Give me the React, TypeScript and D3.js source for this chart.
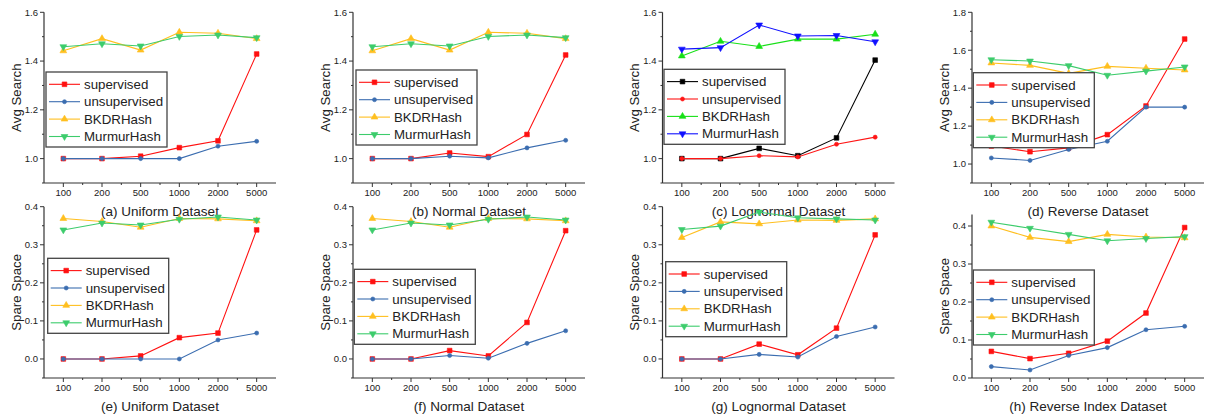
import React from 'react';
import * as d3 from 'd3';

const categories = ['100', '200', '500', '1000', '2000', '5000'];
const seriesNames = ['supervised', 'unsupervised', 'BKDRHash', 'MurmurHash'];

// each panel: one row per series, same order as seriesNames
const uniformSearch = [
  [1.0, 1.0, 1.01, 1.045, 1.073, 1.429],
  [1.0, 1.0, 1.0, 1.0, 1.051, 1.071],
  [1.442, 1.492, 1.445, 1.518, 1.514, 1.492],
  [1.459, 1.471, 1.462, 1.501, 1.507, 1.496],
];
const normalSearch = [
  [1.0, 1.0, 1.023, 1.008, 1.099, 1.425],
  [1.0, 1.0, 1.01, 1.003, 1.044, 1.075],
  [1.442, 1.492, 1.445, 1.518, 1.514, 1.492],
  [1.459, 1.471, 1.462, 1.501, 1.507, 1.496],
];
const lognormalSearch = [
  [1.0, 1.0, 1.042, 1.012, 1.085, 1.404],
  [1.0, 1.0, 1.012, 1.007, 1.059, 1.088],
  [1.421, 1.481, 1.46, 1.49, 1.49, 1.51],
  [1.449, 1.455, 1.548, 1.503, 1.505, 1.479],
];
const reverseSearch = [
  [1.095, 1.065, 1.085, 1.155, 1.306, 1.659],
  [1.032, 1.019, 1.077, 1.12, 1.3, 1.3],
  [1.533, 1.52, 1.478, 1.515, 1.505, 1.496],
  [1.55, 1.543, 1.519, 1.468, 1.49, 1.512],
];
const uniformSpace = [
  [0, 0, 0.008, 0.056, 0.068, 0.339],
  [0, 0, 0, 0, 0.05, 0.068],
  [0.369, 0.361, 0.346, 0.369, 0.368, 0.363],
  [0.339, 0.357, 0.352, 0.367, 0.373, 0.365],
];
const normalSpace = [
  [0, 0, 0.022, 0.008, 0.096, 0.337],
  [0, 0, 0.009, 0.002, 0.041, 0.074],
  [0.369, 0.361, 0.346, 0.369, 0.368, 0.363],
  [0.339, 0.357, 0.352, 0.367, 0.373, 0.365],
];
const lognormalSpace = [
  [0, 0, 0.039, 0.011, 0.081, 0.326],
  [0, 0, 0.012, 0.005, 0.059, 0.084],
  [0.319, 0.36, 0.355, 0.365, 0.364, 0.368],
  [0.34, 0.349, 0.386, 0.371, 0.368, 0.365],
];
const reverseSpace = [
  [0.07, 0.051, 0.065, 0.097, 0.171, 0.396],
  [0.03, 0.021, 0.059, 0.08, 0.127, 0.136],
  [0.4, 0.37, 0.359, 0.378, 0.371, 0.369],
  [0.41, 0.394, 0.378, 0.361, 0.367, 0.372],
];

const searchTicks = [1.0, 1.2, 1.4, 1.6];
const reverseSearchTicks = [1.0, 1.2, 1.4, 1.6, 1.8];
const spaceTicks = [0.0, 0.1, 0.2, 0.3, 0.4];

const mainColors = ['#ff1010', '#3b6db0', '#ffbf1f', '#3dcc6c'];
const lognormalColors = ['#000000', '#ff1515', '#18e018', '#1010ff'];
const shapes = [d3.symbolSquare, d3.symbolCircle, d3.symbolTriangle, d3.symbolTriangle];
const shapeSizes = [22, 13, 20, 20];

const font = '"Liberation Sans", Arial, sans-serif';
const colX = [44, 353, 662.5, 972];
const plotW = 232;

const panels = [
  { caption: '(a) Uniform Dataset', label: 'Avg Search', data: uniformSearch, ticks: searchTicks, domain: [0.9, 1.6], range: [183, 12.3], col: 0, colors: mainColors, legend: [2, 72], capY: 211.5 },
  { caption: '(b) Normal Dataset', label: 'Avg Search', data: normalSearch, ticks: searchTicks, domain: [0.9, 1.6], range: [183, 12.3], col: 1, colors: mainColors, legend: [3, 70], capY: 211.5 },
  { caption: '(c) Lognormal Dataset', label: 'Avg Search', data: lognormalSearch, ticks: searchTicks, domain: [0.9, 1.6], range: [183, 12.3], col: 2, colors: lognormalColors, legend: [1.5, 69.3], capY: 211.5 },
  { caption: '(d) Reverse Dataset', label: 'Avg Search', data: reverseSearch, ticks: reverseSearchTicks, domain: [0.9, 1.8], range: [183, 12.3], col: 3, colors: mainColors, legend: [1.3, 72.7], capY: 211.5 },
  { caption: '(e) Uniform Dataset', label: 'Spare Space', data: uniformSpace, ticks: spaceTicks, domain: [-0.05, 0.4], range: [378, 206.7], col: 0, colors: mainColors, legend: [3.7, 258.3], capY: 406.5 },
  { caption: '(f) Normal Dataset', label: 'Spare Space', data: normalSpace, ticks: spaceTicks, domain: [-0.05, 0.4], range: [378, 206.7], col: 1, colors: mainColors, legend: [1.3, 269.3], capY: 406.5 },
  { caption: '(g) Lognormal Dataset', label: 'Spare Space', data: lognormalSpace, ticks: spaceTicks, domain: [-0.05, 0.4], range: [378, 206.7], col: 2, colors: mainColors, legend: [3.2, 261.7], capY: 406.5 },
  { caption: '(h) Reverse Index Dataset', label: 'Spare Space', data: reverseSpace, ticks: spaceTicks, domain: [0, 0.43], range: [378, 214.6], col: 3, colors: mainColors, legend: [1.3, 270], capY: 406.5 },
];

const Marker = ({ i, x, y, color }) => {
  const path = d3.symbol().type(shapes[i]).size(shapeSizes[i])();
  const rot = i === 3 ? ' rotate(180)' : '';
  return <path d={path} transform={`translate(${x},${y})${rot}`} fill={color} stroke={color} strokeWidth={0.6} />;
};

const Panel = ({ p }) => {
  const x0 = colX[p.col];
  const x = d3.scalePoint().domain(categories).range([x0, x0 + plotW]).padding(0.5);
  const y = d3.scaleLinear().domain(p.domain).range(p.range);
  const line = d3.line().x((d, i) => x(categories[i])).y((d) => y(d));
  const yBottom = p.range[0];
  const yTop = p.range[1];
  const step = p.ticks[1] - p.ticks[0];
  const minor = p.ticks.map((t) => t - step / 2).filter((t) => t >= p.domain[0] && t <= p.domain[1]);
  const [lx, ly] = p.legend;
  const bx = x0 + lx;
  const axisColor = '#333';

  return (
    <g>
      {p.data.map((vals, s) => (
        <g key={s}>
          <path d={line(vals)} fill="none" stroke={p.colors[s]} strokeWidth={1.1} />
          {vals.map((v, i) => (
            <Marker key={i} i={s} x={x(categories[i])} y={y(v)} color={p.colors[s]} />
          ))}
        </g>
      ))}
      <line x1={x0} x2={x0} y1={yTop} y2={yBottom} stroke={axisColor} strokeWidth={1.2} />
      <line x1={x0} x2={x0 + plotW} y1={yBottom} y2={yBottom} stroke={axisColor} strokeWidth={1.2} />
      {p.ticks.map((t) => (
        <g key={t}>
          <line x1={x0 - 4} x2={x0} y1={y(t)} y2={y(t)} stroke={axisColor} strokeWidth={1} />
          <text x={x0 - 6} y={y(t)} dy="0.35em" textAnchor="end" fontSize={9.5} fill="#222">
            {d3.format('.1f')(t)}
          </text>
        </g>
      ))}
      {minor.map((t) => (
        <line key={t} x1={x0 - 2} x2={x0} y1={y(t)} y2={y(t)} stroke={axisColor} strokeWidth={1} />
      ))}
      {categories.map((c, i) => (
        <g key={c}>
          <line x1={x(c)} x2={x(c)} y1={yBottom} y2={yBottom + 4} stroke={axisColor} strokeWidth={1} />
          {i < categories.length - 1 && (
            <line x1={x(c) + x.step() / 2} x2={x(c) + x.step() / 2} y1={yBottom} y2={yBottom + 2} stroke={axisColor} strokeWidth={1} />
          )}
          <text x={x(c)} y={yBottom + 10} dy="0.35em" textAnchor="middle" fontSize={9.5} fill="#222">
            {c}
          </text>
        </g>
      ))}
      <text
        transform={`translate(${x0 - 28},${(yTop + yBottom) / 2}) rotate(-90)`}
        textAnchor="middle"
        dy="0.35em"
        fontSize={13.3}
        fill="#222"
      >
        {p.label}
      </text>
      <rect x={bx} y={ly} width={121} height={75} fill="#fff" stroke="#444" strokeWidth={1.3} />
      {seriesNames.map((n, s) => {
        const ry = ly + 12.3 + s * 17.4;
        return (
          <g key={n}>
            <line x1={bx + 3} x2={bx + 34} y1={ry} y2={ry} stroke={p.colors[s]} strokeWidth={1.1} />
            <Marker i={s} x={bx + 18.5} y={ry} color={p.colors[s]} />
            <text x={bx + 38} y={ry} dy="0.35em" fontSize={13.3} fill="#222">
              {n}
            </text>
          </g>
        );
      })}
      <text x={x0 + plotW / 2} y={p.capY} dy="0.35em" textAnchor="middle" fontSize={13.5} fill="#222">
        {p.caption}
      </text>
    </g>
  );
};

export default function App() {
  return (
    <svg
      width={1207}
      height={419}
      style={{ position: 'absolute', left: 0, top: 0, display: 'block', background: '#fff' }}
      fontFamily={font}
    >
      <rect width={1207} height={419} fill="#fff" />
      {panels.map((p) => (
        <Panel key={p.caption} p={p} />
      ))}
    </svg>
  );
}
